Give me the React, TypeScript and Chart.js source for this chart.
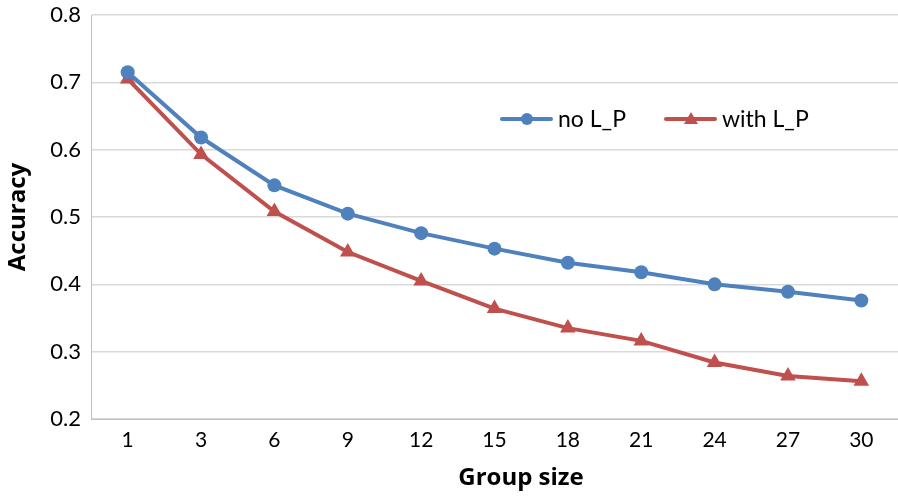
import React, { useEffect, useRef } from "react";
import { Chart, registerables } from "chart.js";

Chart.register(...registerables);

const groupSizes = ["1", "3", "6", "9", "12", "15", "18", "21", "24", "27", "30"];
const noLP = [0.715, 0.618, 0.547, 0.505, 0.476, 0.453, 0.432, 0.418, 0.4, 0.389, 0.376];
const withLP = [0.705, 0.593, 0.508, 0.448, 0.405, 0.364, 0.335, 0.316, 0.284, 0.264, 0.256];
const seriesNames = ["no L_P", "with L_P"];
const yTitle = "Accuracy";
const xTitle = "Group size";

const BLUE = "#4F81BD";
const RED = "#C0504D";
const FONT = "Lato, 'Open Sans', sans-serif";
const TITLE_FONT = "'Open Sans', Lato, sans-serif";

const overlayPlugin = {
  id: "overlayText",
  afterDraw(chart: any) {
    const ctx = chart.ctx;
    const items = [
      { x: 502, textX: 558 },
      { x: 666, textX: 722 },
    ];
    const y = 119;
    chart.data.datasets.forEach((ds: any, i: number) => {
      const it = items[i];
      ctx.save();
      ctx.strokeStyle = ds.borderColor;
      ctx.lineWidth = 4;
      ctx.lineCap = "round";
      ctx.beginPath();
      ctx.moveTo(it.x, y);
      ctx.lineTo(it.x + 49, y);
      ctx.stroke();
      ctx.fillStyle = ds.backgroundColor;
      const cx = it.x + 25;
      if (ds.pointStyle === "triangle") {
        ctx.beginPath();
        ctx.moveTo(cx, y - 7);
        ctx.lineTo(cx + 7, y + 5);
        ctx.lineTo(cx - 7, y + 5);
        ctx.closePath();
        ctx.fill();
      } else {
        ctx.beginPath();
        ctx.arc(cx, y, 6, 0, Math.PI * 2);
        ctx.fill();
      }
      ctx.fillStyle = "#000";
      ctx.font = `23px ${FONT}`;
      ctx.textBaseline = "middle";
      ctx.textAlign = "left";
      ctx.fillText(ds.label, it.textX, y + 1);
      ctx.restore();
    });
    // x-axis title
    ctx.save();
    ctx.fillStyle = "#000";
    ctx.font = `bold 24px ${TITLE_FONT}`;
    ctx.textAlign = "center";
    ctx.textBaseline = "middle";
    ctx.fillText(xTitle, 521, 478);
    ctx.restore();
  },
};

export default function App() {
  const ref = useRef<HTMLCanvasElement | null>(null);

  useEffect(() => {
    document.body.style.margin = "0";
    const canvas = ref.current;
    if (!canvas) return;
    const chart = new Chart(canvas, {
      type: "line",
      data: {
        labels: groupSizes,
        datasets: [
          {
            label: seriesNames[0],
            data: noLP,
            borderColor: BLUE,
            backgroundColor: BLUE,
            borderWidth: 4,
            pointStyle: "circle",
            pointRadius: 7,
            pointHoverRadius: 7,
            pointBorderWidth: 0,
            tension: 0,
          },
          {
            label: seriesNames[1],
            data: withLP,
            borderColor: RED,
            backgroundColor: RED,
            borderWidth: 4,
            pointStyle: "triangle",
            pointRadius: 9,
            pointHoverRadius: 9,
            pointBorderWidth: 0,
            tension: 0,
          },
        ],
      },
      options: {
        animation: false,
        responsive: false,
        devicePixelRatio: 1,
        layout: { padding: { top: 15, right: 1, left: 0, bottom: 0 } },
        plugins: {
          legend: { display: false },
          tooltip: { enabled: false },
        },
        scales: {
          x: {
            type: "category",
            offset: true,
            grid: { display: false, drawTicks: false },
            border: { display: true, color: "#BFBFBF", width: 1 },
            ticks: {
              color: "#000",
              font: { family: FONT, size: 21 },
              padding: 9,
              maxRotation: 0,
            },
            title: { display: false, text: xTitle },
            afterFit(scale: any) {
              scale.height = 80;
              scale.paddingLeft = 0;
              scale.paddingRight = 0;
            },
          },
          y: {
            min: 0.2,
            max: 0.8,
            ticks: {
              stepSize: 0.1,
              color: "#000",
              font: { family: FONT, size: 22 },
              padding: 10,
              callback: (v: any) => Number(v).toFixed(1),
            },
            grid: { color: "#D9D9D9", lineWidth: 1.5, drawTicks: false },
            border: { display: true, color: "#BFBFBF", width: 1 },
            title: {
              display: true,
              text: yTitle,
              color: "#000",
              font: { family: TITLE_FONT, size: 24, weight: "bold" },
              padding: { top: 4, bottom: 0 },
            },
            afterFit(scale: any) {
              scale.width = 91;
              scale.paddingTop = 0;
              scale.paddingBottom = 0;
            },
          },
        },
      },
      plugins: [overlayPlugin],
    });
    return () => chart.destroy();
  }, []);

  return (
    <div style={{ width: 898, height: 499, background: "#fff", overflow: "hidden" }}>
      <canvas ref={ref} width={907} height={499} style={{ display: "block" }} />
    </div>
  );
}
